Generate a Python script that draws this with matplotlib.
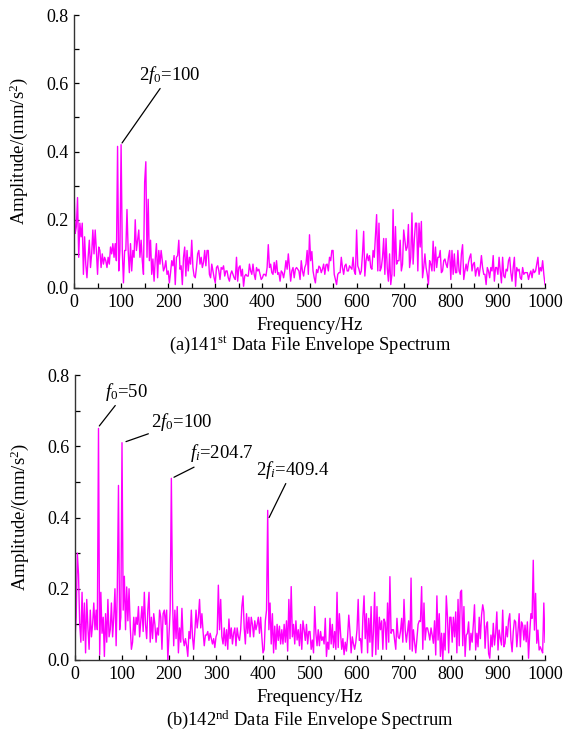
import numpy as np
import matplotlib
matplotlib.use("Agg")
import matplotlib.pyplot as plt
from matplotlib.ticker import MultipleLocator

plt.rcParams['font.family'] = ['Liberation Serif', 'DejaVu Serif']
plt.rcParams['mathtext.fontset'] = 'custom'
plt.rcParams['mathtext.rm'] = 'Liberation Serif'
plt.rcParams['mathtext.it'] = 'Liberation Serif:italic'
plt.rcParams['mathtext.bf'] = 'Liberation Serif:bold'

# frequency grid (Hz), 2.5 Hz spacing
freq = np.arange(0, 1000.01, 2.5)

# (a) 141st data file envelope spectrum, amplitude (mm/s^2)
amp_a = [
    0.29, 0.16, 0.18, 0.265, 0.09, 0.19, 0.15, 0.19, 0.04, 0.15, 0.07, 0.03, 0.09, 0.14, 0.06, 0.10, 0.17, 0.10, 0.17, 0.11,
    0.04, 0.12, 0.11, 0.06, 0.10, 0.07, 0.09, 0.08, 0.06, 0.09, 0.07, 0.12, 0.10, 0.13, 0.09, 0.13, 0.08, 0.415, 0.05, 0.11,
    0.42, 0.11, 0.015, 0.11, 0.11, 0.23, 0.11, 0.045, 0.13, 0.05, 0.11, 0.09, 0.20, 0.11, 0.14, 0.17, 0.09, 0.14, 0.08, 0.04,
    0.31, 0.37, 0.09, 0.26, 0.08, 0.14, 0.04, 0.085, 0.02, 0.085, 0.13, 0.03, 0.11, 0.07, 0.11, 0.08, 0.05, 0.06, 0.08, 0.04,
    0.05, 0.015, 0.045, 0.08, 0.065, 0.095, 0.01, 0.09, 0.095, 0.14, 0.055, 0.065, 0.01, 0.09, 0.12, 0.035, 0.11, 0.05, 0.09, 0.07,
    0.14, 0.06, 0.035, 0.03, 0.06, 0.10, 0.11, 0.07, 0.09, 0.06, 0.075, 0.11, 0.065, 0.11, 0.11, 0.04, 0.03, 0.07, 0.05, 0.03,
    0.015, 0.06, 0.065, 0.05, 0.025, 0.06, 0.055, 0.065, 0.035, 0.05, 0.05, 0.03, 0.02, 0.04, 0.05, 0.04, 0.03, 0.025, 0.09, 0.02,
    0.06, 0.065, 0.035, 0.055, 0.005, 0.035, 0.04, 0.035, 0.035, 0.07, 0.05, 0.04, 0.07, 0.04, 0.025, 0.06, 0.05, 0.055, 0.04, 0.025,
    0.03, 0.04, 0.04, 0.035, 0.06, 0.127, 0.06, 0.07, 0.045, 0.04, 0.075, 0.045, 0.08, 0.04, 0.045, 0.02, 0.05, 0.045, 0.03, 0.05,
    0.08, 0.055, 0.10, 0.06, 0.02, 0.05, 0.06, 0.03, 0.055, 0.06, 0.055, 0.05, 0.025, 0.08, 0.05, 0.035, 0.06, 0.07, 0.11, 0.04,
    0.156, 0.08, 0.107, 0.05, 0.03, 0.015, 0.054, 0.045, 0.064, 0.06, 0.045, 0.055, 0.07, 0.04, 0.068, 0.07, 0.05, 0.09, 0.08, 0.11,
    0.11, 0.04, 0.025, 0.01, 0.04, 0.045, 0.045, 0.09, 0.06, 0.04, 0.065, 0.07, 0.05, 0.05, 0.065, 0.06, 0.055, 0.09, 0.05, 0.04,
    0.17, 0.065, 0.055, 0.04, 0.05, 0.10, 0.166, 0.035, 0.08, 0.10, 0.08, 0.095, 0.06, 0.055, 0.11, 0.09, 0.15, 0.215, 0.05, 0.19,
    0.05, 0.06, 0.09, 0.145, 0.04, 0.145, 0.06, 0.02, 0.10, 0.01, 0.04, 0.23, 0.035, 0.18, 0.07, 0.08, 0.08, 0.14, 0.05, 0.07,
    0.17, 0.14, 0.11, 0.12, 0.186, 0.06, 0.09, 0.22, 0.07, 0.14, 0.19, 0.19, 0.05, 0.19, 0.12, 0.195, 0.03, 0.06, 0.10, 0.06,
    0.04, 0.01, 0.08, 0.07, 0.05, 0.137, 0.05, 0.12, 0.06, 0.09, 0.09, 0.11, 0.045, 0.05, 0.08, 0.085, 0.07, 0.06, 0.09, 0.11,
    0.025, 0.11, 0.04, 0.10, 0.045, 0.045, 0.11, 0.05, 0.04, 0.10, 0.127, 0.025, 0.05, 0.07, 0.05, 0.075, 0.09, 0.10, 0.05, 0.07,
    0.075, 0.035, 0.055, 0.06, 0.035, 0.06, 0.095, 0.06, 0.04, 0.04, 0.01, 0.06, 0.05, 0.03, 0.06, 0.05, 0.095, 0.02, 0.06, 0.06,
    0.04, 0.09, 0.05, 0.015, 0.09, 0.035, 0.03, 0.055, 0.05, 0.08, 0.09, 0.045, 0.02, 0.06, 0.09, 0.005, 0.06, 0.05, 0.055, 0.03,
    0.025, 0.06, 0.04, 0.045, 0.045, 0.045, 0.025, 0.04, 0.05, 0.03, 0.055, 0.045, 0.05, 0.07, 0.09, 0.04, 0.06, 0.05, 0.08, 0.04,
    0.01,
]

# (b) 142nd data file envelope spectrum, amplitude (mm/s^2)
amp_b = [
    0.06, 0.12, 0.30, 0.24, 0.10, 0.05, 0.19, 0.055, 0.16, 0.02, 0.17, 0.09, 0.03, 0.14, 0.065, 0.10, 0.16, 0.085, 0.14, 0.085,
    0.65, 0.015, 0.19, 0.075, 0.12, 0.01, 0.13, 0.05, 0.17, 0.065, 0.085, 0.16, 0.065, 0.12, 0.20, 0.04, 0.20, 0.49, 0.085, 0.12,
    0.61, 0.14, 0.235, 0.085, 0.205, 0.11, 0.20, 0.095, 0.03, 0.05, 0.12, 0.07, 0.12, 0.10, 0.15, 0.065, 0.11, 0.15, 0.08, 0.19,
    0.10, 0.06, 0.14, 0.19, 0.05, 0.12, 0.06, 0.13, 0.10, 0.05, 0.09, 0.07, 0.14, 0.12, 0.03, 0.13, 0.14, 0.10, 0.14, 0.0,
    0.07, 0.14, 0.51, 0.17, 0.04, 0.14, 0.06, 0.15, 0.02, 0.09, 0.05, 0.145, 0.06, 0.04, 0.06, 0.04, 0.01, 0.08, 0.06, 0.14,
    0.065, 0.03, 0.08, 0.14, 0.09, 0.12, 0.17, 0.09, 0.13, 0.08, 0.04, 0.07, 0.07, 0.08, 0.055, 0.075, 0.06, 0.045, 0.06, 0.035,
    0.065, 0.075, 0.21, 0.085, 0.17, 0.065, 0.045, 0.09, 0.04, 0.085, 0.03, 0.115, 0.06, 0.09, 0.045, 0.075, 0.09, 0.04, 0.09, 0.065,
    0.055, 0.085, 0.15, 0.18, 0.09, 0.045, 0.13, 0.075, 0.12, 0.065, 0.12, 0.10, 0.065, 0.11, 0.085, 0.10, 0.12, 0.075, 0.12, 0.065,
    0.02, 0.03, 0.11, 0.14, 0.42, 0.085, 0.16, 0.045, 0.13, 0.02, 0.095, 0.03, 0.10, 0.055, 0.095, 0.045, 0.085, 0.045, 0.10, 0.05,
    0.11, 0.025, 0.17, 0.06, 0.206, 0.065, 0.10, 0.045, 0.11, 0.056, 0.085, 0.04, 0.10, 0.03, 0.11, 0.085, 0.055, 0.10, 0.045, 0.08,
    0.08, 0.03, 0.056, 0.02, 0.15, 0.075, 0.04, 0.085, 0.04, 0.08, 0.055, 0.065, 0.045, 0.117, 0.01, 0.05, 0.03, 0.117, 0.045, 0.10,
    0.035, 0.08, 0.03, 0.19, 0.035, 0.13, 0.075, 0.03, 0.06, 0.015, 0.05, 0.025, 0.065, 0.126, 0.08, 0.02, 0.065, 0.045, 0.03, 0.05,
    0.085, 0.17, 0.055, 0.06, 0.02, 0.12, 0.18, 0.06, 0.13, 0.02, 0.117, 0.05, 0.15, 0.01, 0.08, 0.19, 0.015, 0.15, 0.03, 0.12,
    0.085, 0.11, 0.03, 0.115, 0.105, 0.03, 0.16, 0.05, 0.234, 0.075, 0.085, 0.085, 0.056, 0.03, 0.117, 0.065, 0.06, 0.08, 0.117, 0.05,
    0.17, 0.085, 0.05, 0.08, 0.11, 0.03, 0.23, 0.025, 0.085, 0.05, 0.02, 0.06, 0.10, 0.11, 0.108, 0.206, 0.03, 0.16, 0.056, 0.09,
    0.09, 0.075, 0.056, 0.09, 0.07, 0.047, 0.11, 0.014, 0.18, 0.056, 0.13, 0.01, 0.075, 0.0, 0.075, 0.028, 0.18, 0.12, 0.02, 0.12,
    0.12, 0.05, 0.12, 0.065, 0.135, 0.02, 0.17, 0.04, 0.19, 0.196, 0.04, 0.15, 0.01, 0.07, 0.075, 0.107, 0.028, 0.075, 0.05, 0.10,
    0.155, 0.028, 0.075, 0.037, 0.12, 0.06, 0.126, 0.155, 0.135, 0.033, 0.094, 0.107, 0.018, 0.005, 0.07, 0.037, 0.103, 0.042, 0.075, 0.135,
    0.028, 0.084, 0.06, 0.042, 0.14, 0.037, 0.047, 0.094, 0.065, 0.112, 0.13, 0.056, 0.023, 0.08, 0.112, 0.107, 0.037, 0.08, 0.13, 0.037,
    0.107, 0.098, 0.056, 0.098, 0.051, 0.107, 0.005, 0.075, 0.13, 0.117, 0.28, 0.084, 0.187, 0.047, 0.084, 0.028, 0.037, 0.028, 0.02, 0.16,
    0.05,
]

x_ticks = [0, 100, 200, 300, 400, 500, 600, 700, 800, 900, 1000]
y_ticks = [0.0, 0.2, 0.4, 0.6, 0.8]
captions = [r'(a)141$^{\mathrm{st}}$ Data File Envelope Spectrum',
            r'(b)142$^{\mathrm{nd}}$ Data File Envelope Spectrum']

fig = plt.figure(figsize=(5.74, 7.33), dpi=100)
W, H = 574, 733
ax1 = fig.add_axes([74 / W, 1 - 288 / H, 471 / W, 273 / H])
ax2 = fig.add_axes([75 / W, 1 - 660 / H, 470 / W, 285 / H])

for ax, amp in ((ax1, amp_a), (ax2, amp_b)):
    ax.plot(freq, amp, color='#FF00FF', lw=1.0)
    ax.set_xlim(0, 1000)
    ax.set_ylim(0, 0.8)
    ax.set_xticks(x_ticks)
    ax.set_yticks(y_ticks)
    ax.set_yticklabels([f'{v:.1f}' for v in y_ticks])
    ax.xaxis.set_minor_locator(MultipleLocator(50))
    ax.yaxis.set_minor_locator(MultipleLocator(0.1))
    ax.spines['top'].set_visible(False)
    ax.spines['right'].set_visible(False)
    for s in ('left', 'bottom'):
        ax.spines[s].set_linewidth(1.0)
        ax.spines[s].set_color('#333333')
    ax.tick_params(which='both', direction='in', length=3.5, width=0.9, labelsize=13)
    ax.tick_params(axis='x', which='both', pad=4)
    ax.tick_params(axis='y', which='both', pad=4)
    ax.set_xlabel('Frequency/Hz', fontsize=13.5)
    ax.set_ylabel(r'Amplitude/(mm/s$^{2}$)', fontsize=13.5)

ax1.yaxis.set_label_coords(-0.093, 0.5)
ax2.yaxis.set_label_coords(-0.093, 0.5)
ax1.xaxis.set_label_coords(0.5, -0.105)
ax2.xaxis.set_label_coords(0.5, -0.1)

fig.text(310 / W, 1 - 345 / H, captions[0], ha='center', va='center', fontsize=13.3)
fig.text(310 / W, 1 - 720 / H, captions[1], ha='center', va='center', fontsize=13.3)

ann = dict(arrowprops=dict(arrowstyle='-', color='black', lw=0.9, shrinkA=0, shrinkB=0),
           fontsize=13.5, va='center', ha='left')
ax1.annotate(r'2$f_0$=100', xy=(102, 0.425), xytext=(138, 0.625), **ann)
ax2.annotate(r'$f_0$=50', xy=(51.7, 0.657), xytext=(63, 0.753), **ann)
ax2.annotate(r'2$f_0$=100', xy=(108.5, 0.613), xytext=(162, 0.668), **ann)
ax2.annotate(r'$f_i$=204.7', xy=(210.6, 0.513), xytext=(244, 0.58), **ann)
ax2.annotate(r'2$f_i$=409.4', xy=(413, 0.40), xytext=(385, 0.534), **ann)

fig.savefig('out.png', dpi=100)
